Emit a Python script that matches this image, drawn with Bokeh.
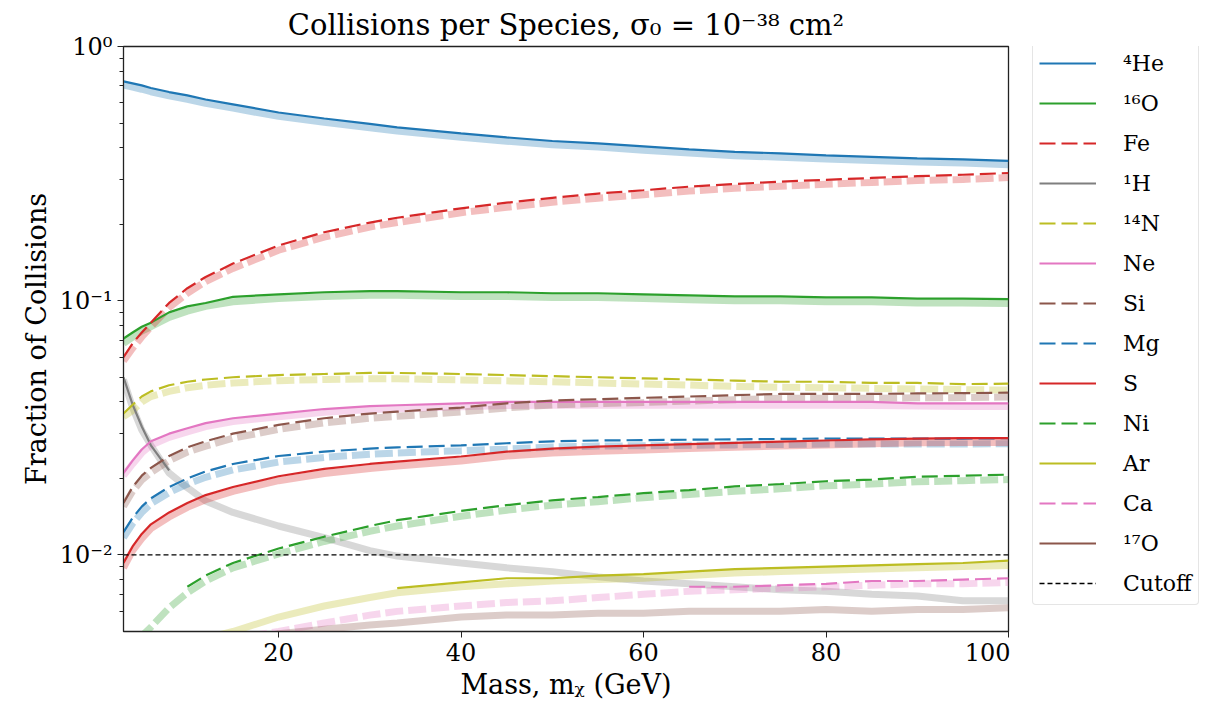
from bokeh.plotting import figure
from bokeh.layouts import row
from bokeh.models import FixedTicker, Legend, LegendItem
from bokeh.embed import file_html
from bokeh.resources import INLINE

nan = float("nan")

X = [3, 4, 5, 6, 8, 10, 12, 15, 20, 25, 30, 33, 40, 45, 50, 55, 60, 65, 70, 75, 80, 85, 90, 95, 100]

HE4_THIN = [0.729, 0.716, 0.703, 0.687, 0.662, 0.642, 0.619, 0.592, 0.550, 0.521, 0.496, 0.481, 0.455, 0.439, 0.425, 0.416, 0.405, 0.394, 0.385, 0.380, 0.373, 0.368, 0.363, 0.360, 0.355]
HE4_BAND = [0.705, 0.692, 0.679, 0.664, 0.640, 0.620, 0.598, 0.572, 0.531, 0.503, 0.479, 0.465, 0.440, 0.424, 0.411, 0.402, 0.391, 0.381, 0.372, 0.367, 0.361, 0.356, 0.351, 0.348, 0.343]
O16_THIN = [0.071, 0.075, 0.079, 0.082, 0.090, 0.095, 0.098, 0.1035, 0.106, 0.108, 0.109, 0.109, 0.108, 0.108, 0.107, 0.107, 0.106, 0.105, 0.104, 0.104, 0.103, 0.103, 0.102, 0.102, 0.1015]
O16_BAND = [0.068, 0.072, 0.076, 0.079, 0.086, 0.091, 0.095, 0.099, 0.102, 0.104, 0.105, 0.105, 0.104, 0.104, 0.103, 0.103, 0.102, 0.101, 0.100, 0.100, 0.099, 0.099, 0.098, 0.098, 0.0975]
FE_THIN = [0.060, 0.068, 0.075, 0.082, 0.098, 0.112, 0.124, 0.140, 0.165, 0.186, 0.203, 0.212, 0.231, 0.243, 0.254, 0.264, 0.272, 0.281, 0.288, 0.294, 0.299, 0.304, 0.309, 0.313, 0.318]
FE_BAND = [0.058, 0.065, 0.072, 0.079, 0.094, 0.107, 0.119, 0.134, 0.158, 0.178, 0.195, 0.203, 0.222, 0.233, 0.244, 0.253, 0.261, 0.270, 0.277, 0.282, 0.287, 0.292, 0.297, 0.300, 0.305]
H1_THIN = [0.050, 0.039, 0.032, 0.027, 0.0215, nan, nan, nan, nan, nan, nan, nan, nan, nan, nan, nan, nan, nan, nan, nan, nan, nan, nan, nan, nan]
H1_BAND = [0.049, 0.038, 0.031, 0.027, 0.021, 0.0184, 0.0163, 0.0147, 0.0130, 0.0117, 0.0104, 0.0099, 0.0093, 0.0089, 0.0086, 0.0082, 0.0079, 0.0077, 0.0075, 0.0073, 0.0072, 0.0070, 0.0069, 0.0066, 0.0066]
N14_THIN = [0.036, 0.039, 0.042, 0.044, 0.0465, 0.048, 0.049, 0.050, 0.051, 0.0515, 0.052, 0.052, 0.0515, 0.051, 0.0505, 0.050, 0.0495, 0.049, 0.0485, 0.048, 0.048, 0.0475, 0.0475, 0.047, 0.0472]
N14_BAND = [0.035, 0.037, 0.040, 0.042, 0.044, 0.0455, 0.0465, 0.0475, 0.0485, 0.049, 0.0493, 0.0493, 0.0488, 0.0484, 0.048, 0.0475, 0.047, 0.0466, 0.046, 0.0457, 0.0455, 0.0452, 0.045, 0.0447, 0.0445]
NE_THIN = [0.021, 0.0235, 0.026, 0.028, 0.030, 0.0315, 0.033, 0.0345, 0.036, 0.0375, 0.0385, 0.0388, 0.0395, 0.040, 0.040, 0.040, 0.040, 0.040, 0.040, 0.040, 0.040, 0.040, 0.0395, 0.0395, 0.0395]
NE_BAND = [0.0205, 0.0228, 0.0252, 0.027, 0.029, 0.0305, 0.032, 0.0335, 0.035, 0.0364, 0.0373, 0.0376, 0.0383, 0.0387, 0.0388, 0.0388, 0.0388, 0.0388, 0.0388, 0.0388, 0.0388, 0.0387, 0.0385, 0.0384, 0.0384]
SI_THIN = [0.016, 0.0185, 0.0205, 0.022, 0.0245, 0.0265, 0.028, 0.030, 0.0325, 0.0345, 0.036, 0.0366, 0.038, 0.0395, 0.0405, 0.041, 0.0415, 0.042, 0.0425, 0.043, 0.043, 0.043, 0.0432, 0.0433, 0.0435]
SI_BAND = [0.0155, 0.0178, 0.0197, 0.0211, 0.0235, 0.0254, 0.0268, 0.0288, 0.0312, 0.0331, 0.0345, 0.0351, 0.0365, 0.0379, 0.0389, 0.0394, 0.0398, 0.0403, 0.0408, 0.0413, 0.0413, 0.0413, 0.0415, 0.0416, 0.0418]
MG_THIN = [0.0123, 0.014, 0.0155, 0.0167, 0.0185, 0.020, 0.0213, 0.0228, 0.0245, 0.0255, 0.0262, 0.0265, 0.027, 0.0275, 0.028, 0.0282, 0.0283, 0.0284, 0.0285, 0.0286, 0.0287, 0.0287, 0.0287, 0.0287, 0.0288]
MG_BAND = [0.0117, 0.0133, 0.0147, 0.0159, 0.0176, 0.019, 0.0202, 0.0216, 0.0232, 0.0242, 0.0249, 0.0252, 0.0257, 0.0261, 0.0266, 0.0268, 0.0269, 0.027, 0.0271, 0.0272, 0.0273, 0.0273, 0.0273, 0.0273, 0.0274]
S_THIN = [0.0093, 0.0108, 0.0121, 0.0132, 0.0147, 0.016, 0.0172, 0.0185, 0.0204, 0.0218, 0.0228, 0.0233, 0.0244, 0.0255, 0.0262, 0.0267, 0.027, 0.0273, 0.0276, 0.0279, 0.0282, 0.0285, 0.0287, 0.0288, 0.0288]
S_BAND = [0.0089, 0.0104, 0.0116, 0.0127, 0.0141, 0.0154, 0.0165, 0.0178, 0.0196, 0.0209, 0.0219, 0.0224, 0.0234, 0.0245, 0.0252, 0.0256, 0.0259, 0.0262, 0.0265, 0.0268, 0.0271, 0.0274, 0.0276, 0.0277, 0.0277]
NI_THIN = [nan, nan, nan, nan, nan, 0.0075, 0.0083, 0.0093, 0.0106, 0.0118, 0.0130, 0.0137, 0.0149, 0.0157, 0.0164, 0.0169, 0.0175, 0.018, 0.0186, 0.019, 0.0195, 0.0198, 0.0203, 0.0205, 0.0207]
NI_BAND = [0.0040, 0.0044, 0.0048, 0.0052, 0.0062, 0.0071, 0.0079, 0.0089, 0.0101, 0.0113, 0.0124, 0.0130, 0.0142, 0.0150, 0.0157, 0.0162, 0.0168, 0.0173, 0.0178, 0.0182, 0.0187, 0.019, 0.0194, 0.0196, 0.0198]
AR_THIN = [nan, nan, nan, nan, nan, nan, nan, nan, nan, nan, nan, 0.0074, 0.0078, 0.0081, 0.0081, 0.0083, 0.0084, 0.0086, 0.0088, 0.0089, 0.009, 0.0091, 0.0092, 0.0093, 0.0095]
AR_BAND = [0.0031, 0.0033, 0.0035, 0.0037, 0.0041, 0.0044, 0.0047, 0.0050, 0.0057, 0.0063, 0.0068, 0.0071, 0.0075, 0.0077, 0.0079, 0.0080, 0.0081, 0.0083, 0.0085, 0.0086, 0.0087, 0.0088, 0.0089, 0.009, 0.0091]
CA_THIN = [nan, nan, nan, nan, nan, nan, nan, nan, nan, nan, nan, nan, nan, nan, nan, nan, nan, 0.0075, 0.0075, 0.0076, 0.0077, 0.0079, 0.0079, 0.008, 0.0081]
CA_BAND = [0.0030, 0.0032, 0.0034, 0.0036, 0.0039, 0.0042, 0.0044, 0.0047, 0.0050, 0.0054, 0.0058, 0.0060, 0.0063, 0.0065, 0.0066, 0.0068, 0.0070, 0.0072, 0.0073, 0.0074, 0.0075, 0.0076, 0.0077, 0.0077, 0.0078]
O17_THIN = [nan] * 25
O17_BAND = [0.0028, 0.0030, 0.0032, 0.0034, 0.0037, 0.0040, 0.0042, 0.0045, 0.0049, 0.0051, 0.0053, 0.0054, 0.0057, 0.0058, 0.0058, 0.0059, 0.0059, 0.006, 0.006, 0.006, 0.0061, 0.006, 0.0061, 0.0061, 0.0062]

SPECIES = ["\u2074He", "\u00b9\u2076O", "Fe", "\u00b9H", "\u00b9\u2074N", "Ne", "Si", "Mg", "S", "Ni", "Ar", "Ca", "\u00b9\u2077O"]
THIN = [HE4_THIN, O16_THIN, FE_THIN, H1_THIN, N14_THIN, NE_THIN, SI_THIN, MG_THIN, S_THIN, NI_THIN, AR_THIN, CA_THIN, O17_THIN]
BAND = [HE4_BAND, O16_BAND, FE_BAND, H1_BAND, N14_BAND, NE_BAND, SI_BAND, MG_BAND, S_BAND, NI_BAND, AR_BAND, CA_BAND, O17_BAND]
COLORS = ["#1f77b4", "#2ca02c", "#d62728", "#7f7f7f", "#bcbd22", "#e377c2", "#8c564b",
          "#1f77b4", "#d62728", "#2ca02c", "#bcbd22", "#e377c2", "#8c564b"]
DASHED = [False, False, True, False, True, False, True, True, False, True, False, True, False]
CUTOFF = 0.01

Y_TICKS = [0.01, 0.1, 1.0]
Y_TICK_LABELS = ["10\u207b\u00b2", "10\u207b\u00b9", "10\u2070"]
Y_MINOR = [0.006, 0.007, 0.008, 0.009, 0.02, 0.03, 0.04, 0.05, 0.06, 0.07, 0.08, 0.09,
           0.2, 0.3, 0.4, 0.5, 0.6, 0.7, 0.8, 0.9]
X_TICKS = [20, 40, 60, 80, 100]

FONT = "DejaVu Serif"
THIN_DASH = "16 6"
BAND_DASH = "18 5"
CUT_DASH = "5 3"

p = figure(width=1010, height=724, y_axis_type="log", x_range=(3, 100), y_range=(0.005, 1.0),
           output_backend="svg", toolbar_location=None,
           title="Collisions per Species, \u03c3\u2080 = 10\u207b\u00b3\u2078 cm\u00b2")
p.min_border_left = 123
p.min_border_right = 2
p.min_border_top = 45
p.min_border_bottom = 93
p.grid.visible = False
p.outline_line_color = "#222222"
p.outline_line_width = 1.3
p.background_fill_color = "white"
p.border_fill_color = "white"

p.title.align = "center"
p.title.text_font = FONT
p.title.text_font_size = "29px"
p.title.text_font_style = "normal"
p.title.text_color = "black"

for ax in (p.xaxis[0], p.yaxis[0]):
    ax.axis_label_text_font = FONT
    ax.axis_label_text_font_style = "normal"
    ax.axis_label_text_font_size = "27px"
    ax.major_label_text_font = FONT
    ax.major_label_text_font_size = "24px"
    ax.major_tick_in = 0
    ax.major_tick_out = 6
    ax.minor_tick_in = 0
    ax.minor_tick_out = 4
    ax.axis_line_color = "#222222"
    ax.major_tick_line_color = "#222222"
    ax.minor_tick_line_color = "#222222"
    ax.axis_label_text_color = "black"
    ax.major_label_text_color = "black"

p.xaxis[0].ticker = FixedTicker(ticks=X_TICKS)
p.xaxis[0].axis_label = "Mass, m\u1d6a (GeV)"
p.yaxis[0].ticker = FixedTicker(ticks=Y_TICKS, minor_ticks=Y_MINOR)
p.yaxis[0].major_label_overrides = dict(zip(Y_TICKS, Y_TICK_LABELS))
p.yaxis[0].axis_label = "Fraction of Collisions"

for band, col, dashed in zip(BAND, COLORS, DASHED):
    p.line(X, band, line_color=col, line_width=7, line_alpha=0.3,
           line_dash=(BAND_DASH if dashed else "solid"))

for thin, col, dashed in zip(THIN, COLORS, DASHED):
    p.line(X, thin, line_color=col, line_width=2.2,
           line_dash=(THIN_DASH if dashed else "solid"))

p.line([X[0], X[-1]], [CUTOFF, CUTOFF], line_color="black", line_width=1.3, line_dash=CUT_DASH)

# Legend panel: a second, axis-free figure holding style-matched legend glyphs
lg = figure(width=211, height=724, x_range=(0, 1), y_range=(0, 1),
            output_backend="svg", toolbar_location=None)
lg.min_border_left = 0
lg.min_border_right = 0
lg.min_border_top = 0
lg.min_border_bottom = 0
lg.axis.visible = False
lg.grid.visible = False
lg.outline_line_color = None
lg.background_fill_color = "white"
lg.border_fill_color = "white"

items = []
for name, col, dashed in zip(SPECIES, COLORS, DASHED):
    r = lg.line([nan, nan], [nan, nan], line_color=col, line_width=2.2,
                line_dash=(THIN_DASH if dashed else "solid"))
    items.append(LegendItem(label=name, renderers=[r]))
rc = lg.line([nan, nan], [nan, nan], line_color="black", line_width=1.3, line_dash=CUT_DASH)
items.append(LegendItem(label="Cutoff", renderers=[rc]))

legend = Legend(items=items, location=(22, 26))
legend.margin = 0
legend.label_text_font = FONT
legend.label_text_font_size = "22px"
legend.label_text_color = "black"
legend.glyph_width = 57
legend.glyph_height = 30
legend.label_height = 30
legend.spacing = 10
legend.label_standoff = 27
legend.padding = 6
legend.border_line_color = "#cccccc"
legend.border_line_width = 1.2
legend.background_fill_alpha = 1.0
try:
    legend.border_radius = 4
except Exception:
    pass
lg.add_layout(legend, "center")

layout = row(p, lg)
open("out.html", "w").write(file_html(layout, INLINE))
